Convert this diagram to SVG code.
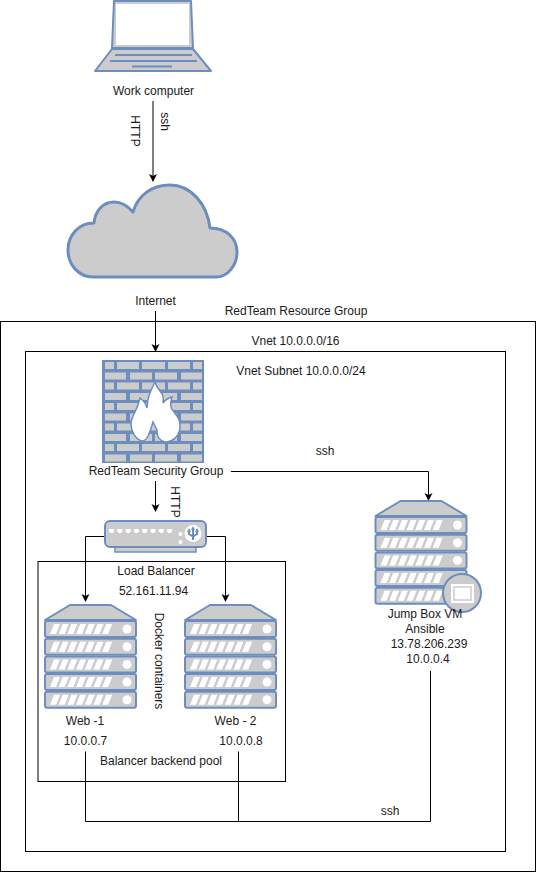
<svg xmlns="http://www.w3.org/2000/svg" width="536" height="872" viewBox="0 0 536 872">
<style>
text{font-family:"Liberation Sans",Arial,sans-serif;font-size:12px;fill:#1a1a1a;text-anchor:middle}
.box{fill:none;stroke:#000;stroke-width:1}
.c{fill:none;stroke:#000;stroke-width:1}
.s{fill:#ccc;stroke:#6c8ebf;stroke-width:2;stroke-linejoin:round}
.b{fill:#ccc;stroke:#6c8ebf;stroke-width:1.5}
.w{fill:#fff}
</style>
<defs>
<marker id="a" markerWidth="10" markerHeight="10" refX="7" refY="4" orient="auto" markerUnits="userSpaceOnUse"><path d="M0 0L8 4L0 8L2 4Z" fill="#000"/></marker>
<g id="rack">
<rect class="s" x="0" y="0" width="91" height="16" rx="2"/>
<path class="w" d="M5 13L9 3H15L11 13ZM13.700 13L17.700 3H23.700L19.700 13ZM22.400 13L26.400 3H32.400L28.400 13ZM31.100 13L35.100 3H41.100L37.100 13ZM39.800 13L43.800 3H49.800L45.800 13ZM48.500 13L52.500 3H58.500L54.500 13ZM57.200 13L61.200 3H67.200L63.200 13Z"/>
<circle class="w" cx="82" cy="8" r="4.500"/>
</g>
<g id="server">
<path class="s" d="M0 15L25 0H66L91 15Z"/>
<use href="#rack" y="16"/><use href="#rack" y="33.700"/><use href="#rack" y="51.400"/><use href="#rack" y="69.100"/><use href="#rack" y="86.800"/>
</g>
</defs>
<g id="resource-group"><rect class="box" x="0.500" y="321.500" width="535" height="550"/><text x="296" y="315">RedTeam Resource Group</text></g>
<g id="vnet"><rect class="box" x="25.500" y="351.500" width="480" height="500"/><text x="295.500" y="345">Vnet 10.0.0.0/16</text><text x="301" y="375">Vnet Subnet 10.0.0.0/24</text></g>
<g id="pool"><rect class="box" x="38" y="561.500" width="247.500" height="220"/><text x="161" y="765">Balancer backend pool</text></g>
<g id="connectors">
<path class="c" d="M153 101V181" marker-end="url(#a)"/>
<path class="c" d="M155.500 311V351" marker-end="url(#a)"/>
<path class="c" d="M155.500 481V511" marker-end="url(#a)"/>
<path class="c" d="M105 536.500H85.500V601" marker-end="url(#a)"/>
<path class="c" d="M206 536.500H225.500V601" marker-end="url(#a)"/>
<path class="c" d="M231 471.500H428.500V500" marker-end="url(#a)"/>
<path class="c" d="M85.500 751.500V821.500H430.500V671"/>
<path class="c" d="M238.500 751.500V821.500"/>
<text transform="translate(131 131) rotate(90)">HTTP</text>
<text transform="translate(161 121.500) rotate(90)">ssh</text>
<text transform="translate(171 502) rotate(90)">HTTP</text>
<text x="325" y="455">ssh</text>
<text x="390" y="815">ssh</text>
<text transform="translate(155 661) rotate(90)">Docker containers</text>
</g>
<g id="work-computer">
<path class="s" d="M112 48L114 1H191L193 48Z"/>
<rect x="116" y="4" width="73" height="41" fill="#fff"/>
<path class="s" d="M112 49H193L211 71H95Z"/>
<path d="M115 55H192M110 61H197M132 66.500H172" stroke="#6c8ebf" stroke-width="2" fill="none"/>
<text x="153.500" y="95">Work computer</text>
</g>
<g id="internet">
<path class="s" style="stroke-width:3" d="M93 277H216C228 277 237 265 237 252C237 238 226 228 210 228C207 203 190 185 170 185C152 185 138 195 133 212C127 205 120 202 114 202C103 202 95 211 94 223C79 223 68 235 68 250C68 265 79 277 93 277Z"/>
<text x="155.500" y="305">Internet</text>
</g>
<g id="security-group">
<rect x="102" y="360" width="102" height="103" fill="#6c8ebf"/>
<g fill="#ccc">
<rect x="105" y="362" width="9" height="7"/><rect x="117" y="362" width="22" height="7"/><rect x="142" y="362" width="23" height="7"/><rect x="168" y="362" width="22" height="7"/><rect x="193" y="362" width="9" height="7"/>
<rect x="105" y="372.500" width="21" height="7"/><rect x="130" y="372.500" width="22" height="7"/><rect x="155" y="372.500" width="22" height="7"/><rect x="181" y="372.500" width="21" height="7"/>
<rect x="105" y="382.500" width="9" height="7"/><rect x="117" y="382.500" width="22" height="7"/><rect x="142" y="382.500" width="23" height="7"/><rect x="168" y="382.500" width="22" height="7"/><rect x="193" y="382.500" width="9" height="7"/>
<rect x="105" y="393" width="21" height="7"/><rect x="130" y="393" width="22" height="7"/><rect x="155" y="393" width="22" height="7"/><rect x="181" y="393" width="21" height="7"/>
<rect x="105" y="403" width="9" height="7"/><rect x="117" y="403" width="22" height="7"/><rect x="142" y="403" width="23" height="7"/><rect x="168" y="403" width="22" height="7"/><rect x="193" y="403" width="9" height="7"/>
<rect x="105" y="413.500" width="21" height="7"/><rect x="130" y="413.500" width="22" height="7"/><rect x="155" y="413.500" width="22" height="7"/><rect x="181" y="413.500" width="21" height="7"/>
<rect x="105" y="423.500" width="9" height="7"/><rect x="117" y="423.500" width="22" height="7"/><rect x="142" y="423.500" width="23" height="7"/><rect x="168" y="423.500" width="22" height="7"/><rect x="193" y="423.500" width="9" height="7"/>
<rect x="105" y="434" width="21" height="7"/><rect x="130" y="434" width="22" height="7"/><rect x="155" y="434" width="22" height="7"/><rect x="181" y="434" width="21" height="7"/>
<rect x="105" y="444" width="9" height="7"/><rect x="117" y="444" width="22" height="7"/><rect x="142" y="444" width="23" height="7"/><rect x="168" y="444" width="22" height="7"/><rect x="193" y="444" width="9" height="7"/>
<rect x="105" y="454.500" width="21" height="7"/><rect x="130" y="454.500" width="22" height="7"/><rect x="155" y="454.500" width="22" height="7"/><rect x="181" y="454.500" width="21" height="7"/>
</g>
<path fill="#fff" stroke="#6c8ebf" stroke-width="1.500" d="M155 382C158 392 165 392 163 403C165 400 168 398 172 397C170 404 170 408 174 412C178 417 181 421 180 428C179 436 172 443 165 442C160 441 156 436 157 430L153 422C151 428 150 432 148 436C146 440 143 441 142 441C135 439 131 431 131 424C131 416 137 412 140 398C144 401 146 404 147 408C147 398 151 390 155 382Z"/>
<text x="156" y="475">RedTeam Security Group</text>
</g>
<g id="load-balancer">
<rect class="b" x="115" y="540" width="81" height="12"/>
<rect class="s" x="105" y="521" width="101" height="26" rx="5"/>
<path class="w" d="M109 529H114V531.500L112.500 533H110.500L109 531.500ZM117.300 529H122.300V531.500L120.800 533H118.800L117.300 531.500ZM125.600 529H130.600V531.500L129.100 533H127.100L125.600 531.500ZM133.900 529H138.900V531.500L137.400 533H135.400L133.900 531.500ZM142.200 529H147.200V531.500L145.700 533H143.700L142.200 531.500ZM150.500 529H155.500V531.500L154 533H152L150.500 531.500ZM158.800 529H163.800V531.500L162.300 533H160.300L158.800 531.500ZM167.100 529H172.100V531.500L170.600 533H168.600L167.100 531.500Z"/>
<circle class="w" cx="180.500" cy="534" r="2"/><circle class="w" cx="180.500" cy="542" r="2"/>
<circle class="w" cx="193" cy="533.500" r="8.500"/>
<path d="M193 528V540M189 531V534L193 536.500L197 534V531" fill="none" stroke="#6c8ebf" stroke-width="2"/>
<path d="M189 528L187 532H191ZM197 528L195 532H199ZM193 526L191 530H195Z" fill="#6c8ebf"/>
<text x="156" y="575">Load Balancer</text>
<text x="153.500" y="595">52.161.11.94</text>
</g>
<g id="web-1"><use href="#server" x="45" y="605"/><text x="85" y="725">Web -1</text><text x="85.500" y="745">10.0.0.7</text></g>
<g id="web-2"><use href="#server" x="185" y="605"/><text x="235.500" y="725">Web - 2</text><text x="241" y="745">10.0.0.8</text></g>
<g id="jump-box">
<use href="#server" x="375.500" y="501"/>
<circle class="s" cx="462" cy="593" r="19"/>
<rect x="451" y="584" width="23" height="19" fill="#fff"/>
<rect x="454" y="587" width="17" height="13" fill="#fff" stroke="#ccc" stroke-width="1.500"/>
<text x="425" y="618">Jump Box VM</text>
<text x="425" y="633">Ansible</text>
<text x="429" y="648">13.78.206.239</text>
<text x="428" y="663">10.0.0.4</text>
</g>
</svg>
